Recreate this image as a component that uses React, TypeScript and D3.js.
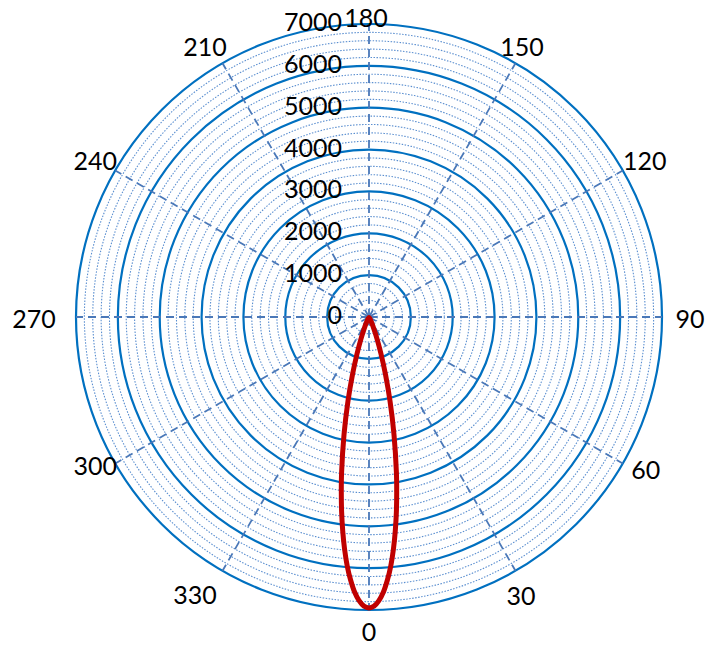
import React from "react";
import * as d3 from "d3";

const radialTicks = [0, 1000, 2000, 3000, 4000, 5000, 6000, 7000];
const minorStep = 200;
const angleTicks = [0, 30, 60, 90, 120, 150, 180, 210, 240, 270, 300, 330];
const lobeAngles = [-30, -25, -22, -20, -18, -16, -14, -12, -10, -9, -8, -7, -6, -5, -4, -3, -2, -1, 0, 1, 2, 3, 4, 5, 6, 7, 8, 9, 10, 12, 14, 16, 18, 20, 22, 25, 30];
const lobeValues = [20, 140, 340, 580, 930, 1430, 2080, 2870, 3770, 4230, 4700, 5150, 5580, 5970, 6300, 6580, 6780, 6910, 6950, 6910, 6780, 6580, 6300, 5970, 5580, 5150, 4700, 4230, 3770, 2870, 2080, 1430, 930, 580, 340, 140, 20];

const W = 707;
const H = 648;
const cx = 369;
const cy = 317;
const R = 293;
const FONT = "Lato, 'Open Sans', sans-serif";

// small nudges of the angle labels (dx, dy) around the label circle
const labelNudge: Record<number, [number, number]> = {
  0: [0, -2],
  30: [-6, 4],
  60: [3, -6],
  90: [5, 1],
  120: [2, 1],
  150: [-5, 3],
  180: [-3, 16],
  210: [-6, 3],
  240: [0, 1],
  270: [-19, 1],
  300: [0, -10],
  330: [-16, 3],
};

export default function App() {
  const r = d3.scaleLinear().domain([0, 7000]).range([0, R]);
  // data angle: 0 at bottom, 90 at right -> d3 angle = PI - theta
  const toA = (deg: number) => Math.PI - (deg * Math.PI) / 180;
  const minor = d3.range(minorStep, 7000, minorStep).filter((v) => v % 1000 !== 0);
  const major = radialTicks.filter((v) => v > 0);
  const line = d3
    .lineRadial<number>()
    .angle((_, i) => toA(lobeAngles[i]))
    .radius((d) => r(d))
    .curve(d3.curveCatmullRomClosed);
  return (
    <svg width={W} height={H} style={{ position: "absolute", left: 0, top: 0 }}>
      <rect width={W} height={H} fill="#fff" />
      <g transform={`translate(${cx},${cy})`}>
        {minor.map((v) => (
          <circle key={"m" + v} r={r(v)} fill="none" stroke="#5b8fd0" strokeWidth={1.1} strokeDasharray="1.5,1.5" />
        ))}
        {major.map((v) => (
          <circle key={"M" + v} r={r(v)} fill="none" stroke="#0070c0" strokeWidth={2.2} />
        ))}
        {angleTicks.map((a) => {
          const t = (a * Math.PI) / 180;
          return (
            <line key={"s" + a} x1={0} y1={0} x2={R * Math.sin(t)} y2={R * Math.cos(t)} stroke="#4a78b8" strokeWidth={1.8} strokeDasharray="8,5" />
          );
        })}
        <path d={line(lobeValues) || ""} fill="none" stroke="#c00000" strokeWidth={5} strokeLinejoin="round" />
        {radialTicks.map((v) => (
          <text key={"rt" + v} x={-27} y={-r(v) - 3} textAnchor="end" dominantBaseline="central" fontFamily={FONT} fontSize={25} fill="#000">
            {v}
          </text>
        ))}
        {angleTicks.map((a) => {
          const t = (a * Math.PI) / 180;
          const lr = 316;
          const [dx, dy] = labelNudge[a] || [0, 0];
          return (
            <text key={"at" + a} x={lr * Math.sin(t) + dx} y={lr * Math.cos(t) + dy} textAnchor="middle" dominantBaseline="central" fontFamily={FONT} fontSize={25} fill="#000">
              {a}
            </text>
          );
        })}
      </g>
    </svg>
  );
}
